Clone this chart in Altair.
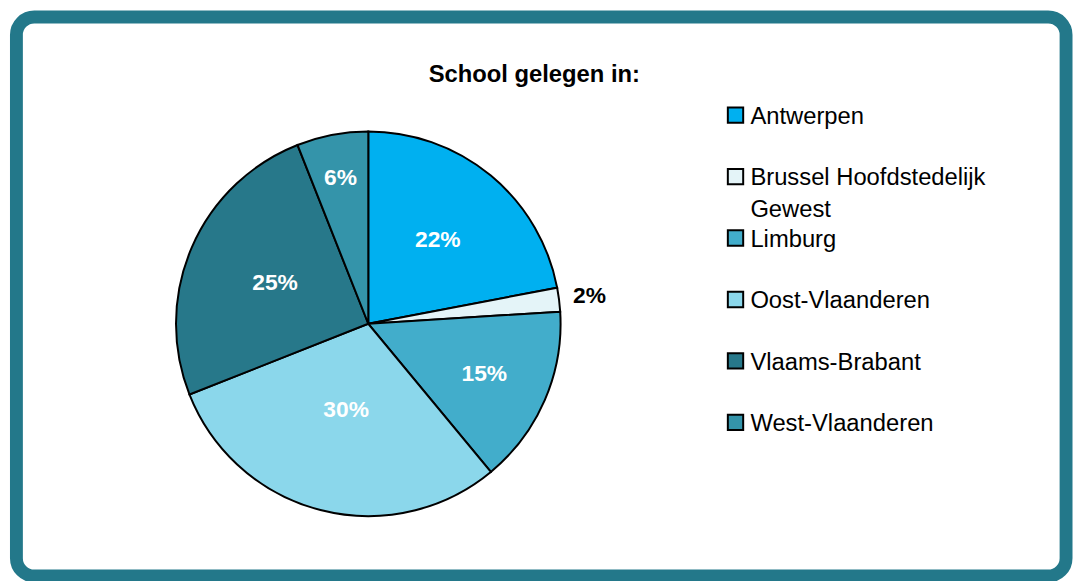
import altair as alt
import pandas as pd

# ---- data ----
regions = ["Antwerpen", "Brussel Hoofdstedelijk Gewest", "Limburg",
           "Oost-Vlaanderen", "Vlaams-Brabant", "West-Vlaanderen"]
shares = [22, 2, 15, 30, 25, 6]
colors = ["#00B0F0", "#E4F4F8", "#42ADCB", "#8BD7EB", "#27788A", "#3494AA"]
title_text = "School gelegen in:"

df = pd.DataFrame({"region": regions, "share": shares, "idx": list(range(len(regions)))})

FONT = "Liberation Sans"
CX, CY, R = 355, 309.5, 194

color = alt.Color("region:N", scale=alt.Scale(domain=regions, range=colors), legend=None)
base = alt.Chart(df)

arc = base.mark_arc(outerRadius=R, stroke="black", strokeWidth=2).encode(
    theta=alt.Theta("share:Q", stack=True),
    color=color,
    order=alt.Order("idx:Q"),
    x=alt.value(CX), y=alt.value(CY),
)

# slice labels: placed at the mid-angle of each (explicitly stacked) slice
labels = base.transform_window(
    cum="sum(share)", sort=[alt.SortField("idx", order="ascending")]
).transform_calculate(
    mid="datum.cum - datum.share / 2",
    pct="datum.share / 100",
    lr="datum.share < 5 ? 225 : 165 - 2.5 * datum.share",
).mark_text(font=FONT, fontSize=23, fontWeight="bold", baseline="middle").encode(
    theta=alt.Theta("mid:Q", stack=None),
    radius=alt.Radius("lr:Q", scale=None),
    text=alt.Text("pct:Q", format=".0%"),
    color=alt.condition("datum.share < 5", alt.value("black"), alt.value("white")),
    x=alt.value(CX), y=alt.value(CY),
)

ly = alt.Y("region:N", axis=None,
           scale=alt.Scale(type="point", domain=regions, range=[99, 409], padding=0))

leg_sym = base.mark_square(size=240, stroke="black", strokeWidth=2, opacity=1).encode(
    y=ly, x=alt.value(725.5), color=color,
)

leg_txt = base.transform_calculate(
    leg="replace(datum.region, 'Hoofdstedelijk ', 'Hoofdstedelijk\\n')"
).mark_text(font=FONT, fontSize=24, align="left", baseline="top", dy=-10,
            lineBreak="\n", lineHeight=32, color="black").encode(
    y=ly, x=alt.value(740.5), text="leg:N",
)

chart = alt.layer(arc, labels, leg_sym, leg_txt).properties(
    width=1059, height=564,
    title=alt.TitleParams(title_text, font=FONT, fontSize=24, fontWeight="bold",
                          color="black", anchor="middle", offset=-71, dx=-7),
    padding={"left": 8.5, "top": 6.5, "right": 7, "bottom": 7},
    autosize=alt.AutoSizeParams(type="none"),
    background="white",
).configure_view(
    stroke="#23788A", strokeWidth=13, cornerRadius=18, fill="white"
)

chart.save("out.html", embed_options={"renderer": "svg", "actions": False})
